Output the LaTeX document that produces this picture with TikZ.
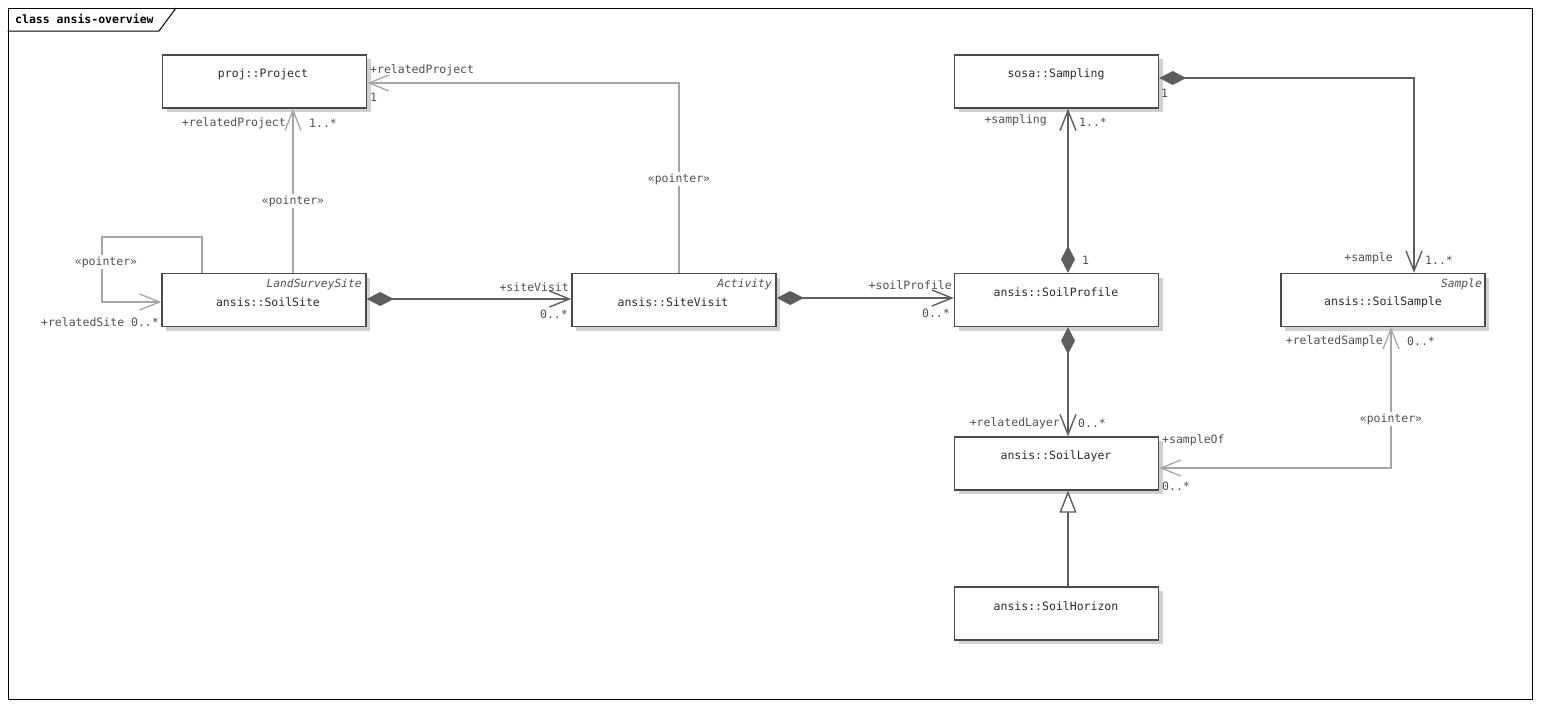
\documentclass[tikz,border=0pt]{standalone}
\usepackage{fontspec}
\setmonofont{DejaVu Sans Mono}
\usetikzlibrary{arrows.meta,shadows,calc}
\definecolor{boxline}{HTML}{4A4A4A}
\definecolor{assocline}{HTML}{5E5E5E}
\definecolor{ptrline}{HTML}{A6A6A6}
\definecolor{labeltext}{HTML}{505050}
\definecolor{nametext}{HTML}{2A2A2A}
\definecolor{shadowgray}{HTML}{D0D0D0}
\tikzset{
  cls/.style={draw=boxline, line width=1.4pt, fill=white, rectangle, inner sep=0pt,
    minimum width=204pt, minimum height=53pt,
    drop shadow={shadow xshift=4pt, shadow yshift=-4pt, fill=shadowgray, opacity=1}},
  cname/.style={text=nametext, font=\ttfamily\fontsize{11.5}{13}\selectfont, inner sep=0pt},
  stereo/.style={text=labeltext, font=\ttfamily\itshape\fontsize{11.3}{13}\selectfont, inner sep=0pt, anchor=east},
  lbl/.style={text=labeltext, inner sep=0pt},
  ptrlbl/.style={text=labeltext, fill=white, inner sep=1pt},
  assoc/.style={draw=assocline, line width=1.4pt},
  ptr/.style={draw=ptrline, line width=1.3pt},
  comp/.style={assoc, {Diamond[length=27pt,width=14pt,fill=assocline]}-{Straight Barb[length=20pt,width=16pt]}},
  ptrarrow/.style={ptr, -{Straight Barb[length=20pt,width=16pt]}},
  ptrboth/.style={ptr, {Straight Barb[length=20pt,width=16pt]}-{Straight Barb[length=20pt,width=16pt]}},
  gen/.style={assoc, -{Triangle[open,length=22pt,width=17pt,fill=white]}},
}
\begin{document}
\begin{tikzpicture}[x=1pt,y=-1pt, font=\ttfamily\fontsize{11.5}{13}\selectfont]
\useasboundingbox (0,0) rectangle (1541,707);
\fill[white] (0,0) rectangle (1541,707);

% frame
\node[draw=black, line width=1pt, rectangle, inner sep=0pt, minimum width=1524pt, minimum height=691pt] (frame) at (770,353.5) {};
\coordinate (tabA) at (8,31);
\coordinate (tabB) at (159,31);
\coordinate (tabC) at (176,8);
\draw[black, line width=1pt] (frame.west |- tabA) -- (tabB) -- (tabC);
\node[anchor=west, inner sep=0pt, text=black, font=\ttfamily\bfseries\fontsize{11.5}{13}\selectfont] (title) at (15,19) {class ansis-overview};

% classes
\node[cls] (project) at (264.5,81.5) {};
\node[cname] (projectname) at (263,74) {proj::Project};

\node[cls] (soilsite) at (264,300) {};
\node[cname] (soilsitename) at (268,302) {ansis::SoilSite};
\node[stereo] (soilsitest) at (362,284) {LandSurveySite};

\node[cls] (sitevisit) at (674,300) {};
\node[cname] (sitevisitname) at (673,302) {ansis::SiteVisit};
\node[stereo] (sitevisitst) at (772,284) {Activity};

\node[cls] (sampling) at (1056.5,81.5) {};
\node[cname] (samplingname) at (1056,74) {sosa::Sampling};

\node[cls] (soilprofile) at (1056.5,300) {};
\node[cname] (soilprofilename) at (1056,292) {ansis::SoilProfile};

\node[cls] (soilsample) at (1383,300) {};
\node[cname] (soilsamplename) at (1383,302) {ansis::SoilSample};
\node[stereo] (soilsamplest) at (1482,284) {Sample};

\node[cls] (soillayer) at (1056.5,463.5) {};
\node[cname] (soillayername) at (1056,456) {ansis::SoilLayer};

\node[cls] (soilhorizon) at (1056.5,613.5) {};
\node[cname] (soilhorizonname) at (1056,606) {ansis::SoilHorizon};

% helper coordinates
\coordinate (x293) at (293,0);
\coordinate (x202) at (202,0);
\coordinate (loopcorner) at (102,237);
\coordinate (y302) at (0,302);
\coordinate (x679) at (679,0);
\coordinate (y83) at (0,83);
\coordinate (y299) at (0,299);
\coordinate (y298) at (0,298);
\coordinate (x1068) at (1068,0);
\coordinate (y78) at (0,78);
\coordinate (x1414) at (1414,0);
\coordinate (x1391) at (1391,0);
\coordinate (y468) at (0,468);

% pointer connectors
\draw[ptrarrow] (soilsite.north -| x293) -- (project.south -| x293);
\draw[ptrarrow] (soilsite.north -| x202) |- (loopcorner) |- (soilsite.west |- y302);
\draw[ptrarrow] (sitevisit.north -| x679) |- (project.east |- y83);
\draw[ptrboth] (soilsample.south -| x1391) |- (soillayer.east |- y468);

% compositions
\draw[comp] (soilsite.east |- y299) -- (sitevisit.west |- y299);
\draw[comp] (sitevisit.east |- y298) -- (soilprofile.west |- y298);
\draw[comp] (soilprofile.north -| x1068) -- (sampling.south -| x1068);
\draw[comp] (sampling.east |- y78) -| (soilsample.north -| x1414);
\draw[comp] (soilprofile.south -| x1068) -- (soillayer.north -| x1068);

% generalization
\draw[gen] (soilhorizon.north -| x1068) -- (soillayer.south -| x1068);

% pointer labels
\node[ptrlbl] (p1) at (293,201) {«pointer»};
\node[ptrlbl] (p2) at (106,262) {«pointer»};
\node[ptrlbl] (p3) at (679,179) {«pointer»};
\node[ptrlbl] (p4) at (1391,419) {«pointer»};

% role / multiplicity labels
\node[lbl, anchor=east] (l1) at (286,123) {+relatedProject};
\node[lbl, anchor=west] (l2) at (309,123) {1..*};
\node[lbl, anchor=east] (l3) at (159,322) {+relatedSite 0..*};
\node[lbl, anchor=west] (l4) at (370,70) {+relatedProject};
\node[lbl, anchor=west] (l5) at (370,97) {1};
\node[lbl, anchor=east] (l6) at (569,287) {+siteVisit};
\node[lbl, anchor=east] (l7) at (568,314) {0..*};
\node[lbl, anchor=east] (l8) at (952,285) {+soilProfile};
\node[lbl, anchor=east] (l9) at (950,313) {0..*};
\node[lbl, anchor=east] (l10) at (1047,120) {+sampling};
\node[lbl, anchor=west] (l11) at (1079,122) {1..*};
\node[lbl, anchor=west] (l12) at (1161,93) {1};
\node[lbl, anchor=west] (l13) at (1082,260) {1};
\node[lbl, anchor=east] (l14) at (1393,258) {+sample};
\node[lbl, anchor=west] (l15) at (1425,260) {1..*};
\node[lbl, anchor=east] (l16) at (1060,423) {+relatedLayer};
\node[lbl, anchor=west] (l17) at (1078,423) {0..*};
\node[lbl, anchor=west] (l18) at (1162,440) {+sampleOf};
\node[lbl, anchor=west] (l19) at (1162,486) {0..*};
\node[lbl, anchor=east] (l20) at (1383,341) {+relatedSample};
\node[lbl, anchor=west] (l21) at (1407,341) {0..*};
\end{tikzpicture}
\end{document}
